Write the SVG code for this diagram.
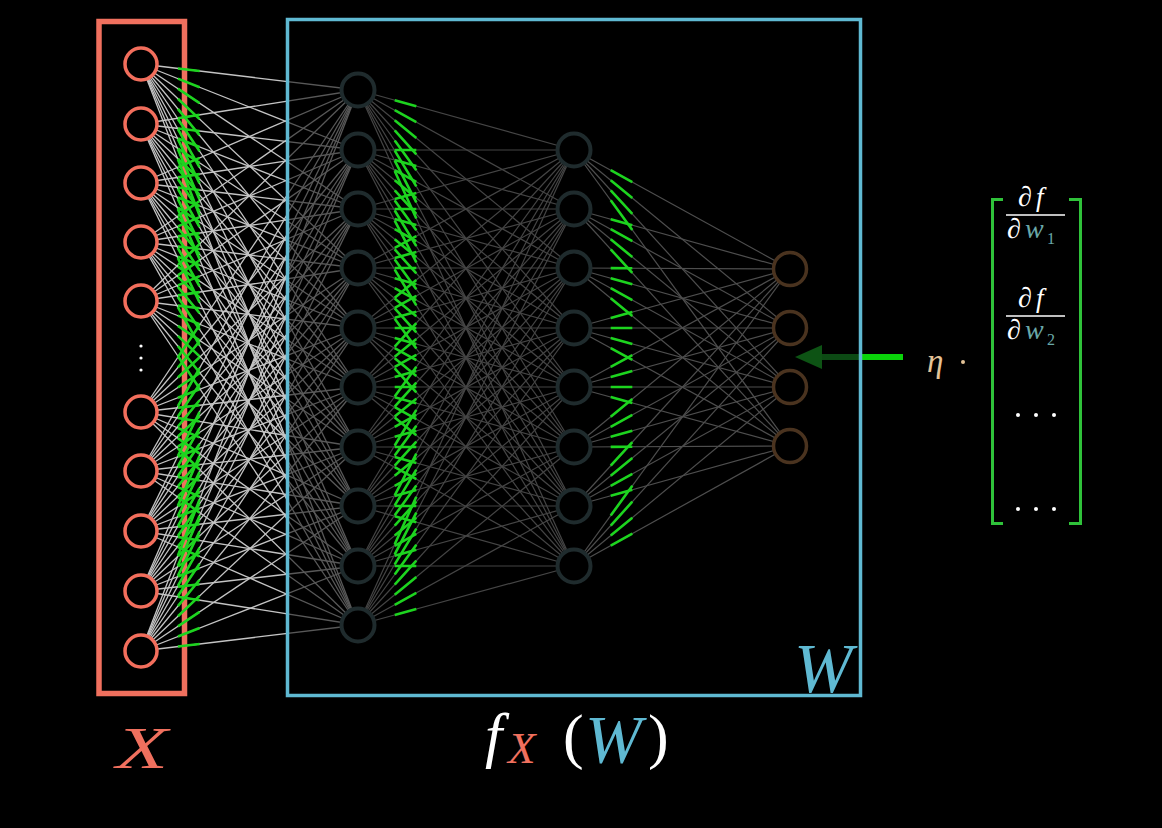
<svg xmlns="http://www.w3.org/2000/svg" xmlns:xlink="http://www.w3.org/1999/xlink" width="1162" height="828" viewBox="0 0 1162 828">
<style>
.t{font-family:"Liberation Serif","DejaVu Serif",serif}
.it{font-style:italic}
.l1{stroke:url(#fade);stroke-width:1.3;fill:none}
.l2{stroke:#454545;stroke-width:1.2;fill:none}
.l3{stroke:#4e4e4e;stroke-width:1.2;fill:none}
.grn{stroke:#1DD41F;stroke-width:2.6;stroke-dasharray:0 17 10 300;fill:none}
.in{fill:#000;stroke:#F26E5C;stroke-width:3.5}
.hid{fill:#000;stroke:#1F2B2D;stroke-width:4}
.out{fill:#000;stroke:#4A331F;stroke-width:3.5}
.brk{fill:none;stroke:#2FC23A;stroke-width:3}
.teal{fill:#6AA8A8}
</style>
<defs>
<linearGradient id="fade" gradientUnits="userSpaceOnUse" x1="0" y1="0" x2="1162" y2="0">
<stop offset="0" stop-color="#C4C4C4"/><stop offset="0.247" stop-color="#C4C4C4"/><stop offset="0.247" stop-color="#585858"/><stop offset="1" stop-color="#585858"/>
</linearGradient>
<g id="E1">
<line x1="141" y1="64" x2="358" y2="90" pathLength="100"/><line x1="141" y1="64" x2="358" y2="150" pathLength="100"/><line x1="141" y1="64" x2="358" y2="209" pathLength="100"/><line x1="141" y1="64" x2="358" y2="268" pathLength="100"/><line x1="141" y1="64" x2="358" y2="328" pathLength="100"/><line x1="141" y1="64" x2="358" y2="387" pathLength="100"/><line x1="141" y1="64" x2="358" y2="447" pathLength="100"/><line x1="141" y1="64" x2="358" y2="506" pathLength="100"/><line x1="141" y1="64" x2="358" y2="566" pathLength="100"/><line x1="141" y1="64" x2="358" y2="625" pathLength="100"/>
<line x1="141" y1="124" x2="358" y2="90" pathLength="100"/><line x1="141" y1="124" x2="358" y2="150" pathLength="100"/><line x1="141" y1="124" x2="358" y2="209" pathLength="100"/><line x1="141" y1="124" x2="358" y2="268" pathLength="100"/><line x1="141" y1="124" x2="358" y2="328" pathLength="100"/><line x1="141" y1="124" x2="358" y2="387" pathLength="100"/><line x1="141" y1="124" x2="358" y2="447" pathLength="100"/><line x1="141" y1="124" x2="358" y2="506" pathLength="100"/><line x1="141" y1="124" x2="358" y2="566" pathLength="100"/><line x1="141" y1="124" x2="358" y2="625" pathLength="100"/>
<line x1="141" y1="183" x2="358" y2="90" pathLength="100"/><line x1="141" y1="183" x2="358" y2="150" pathLength="100"/><line x1="141" y1="183" x2="358" y2="209" pathLength="100"/><line x1="141" y1="183" x2="358" y2="268" pathLength="100"/><line x1="141" y1="183" x2="358" y2="328" pathLength="100"/><line x1="141" y1="183" x2="358" y2="387" pathLength="100"/><line x1="141" y1="183" x2="358" y2="447" pathLength="100"/><line x1="141" y1="183" x2="358" y2="506" pathLength="100"/><line x1="141" y1="183" x2="358" y2="566" pathLength="100"/><line x1="141" y1="183" x2="358" y2="625" pathLength="100"/>
<line x1="141" y1="242" x2="358" y2="90" pathLength="100"/><line x1="141" y1="242" x2="358" y2="150" pathLength="100"/><line x1="141" y1="242" x2="358" y2="209" pathLength="100"/><line x1="141" y1="242" x2="358" y2="268" pathLength="100"/><line x1="141" y1="242" x2="358" y2="328" pathLength="100"/><line x1="141" y1="242" x2="358" y2="387" pathLength="100"/><line x1="141" y1="242" x2="358" y2="447" pathLength="100"/><line x1="141" y1="242" x2="358" y2="506" pathLength="100"/><line x1="141" y1="242" x2="358" y2="566" pathLength="100"/><line x1="141" y1="242" x2="358" y2="625" pathLength="100"/>
<line x1="141" y1="301" x2="358" y2="90" pathLength="100"/><line x1="141" y1="301" x2="358" y2="150" pathLength="100"/><line x1="141" y1="301" x2="358" y2="209" pathLength="100"/><line x1="141" y1="301" x2="358" y2="268" pathLength="100"/><line x1="141" y1="301" x2="358" y2="328" pathLength="100"/><line x1="141" y1="301" x2="358" y2="387" pathLength="100"/><line x1="141" y1="301" x2="358" y2="447" pathLength="100"/><line x1="141" y1="301" x2="358" y2="506" pathLength="100"/><line x1="141" y1="301" x2="358" y2="566" pathLength="100"/><line x1="141" y1="301" x2="358" y2="625" pathLength="100"/>
<line x1="141" y1="412" x2="358" y2="90" pathLength="100"/><line x1="141" y1="412" x2="358" y2="150" pathLength="100"/><line x1="141" y1="412" x2="358" y2="209" pathLength="100"/><line x1="141" y1="412" x2="358" y2="268" pathLength="100"/><line x1="141" y1="412" x2="358" y2="328" pathLength="100"/><line x1="141" y1="412" x2="358" y2="387" pathLength="100"/><line x1="141" y1="412" x2="358" y2="447" pathLength="100"/><line x1="141" y1="412" x2="358" y2="506" pathLength="100"/><line x1="141" y1="412" x2="358" y2="566" pathLength="100"/><line x1="141" y1="412" x2="358" y2="625" pathLength="100"/>
<line x1="141" y1="471" x2="358" y2="90" pathLength="100"/><line x1="141" y1="471" x2="358" y2="150" pathLength="100"/><line x1="141" y1="471" x2="358" y2="209" pathLength="100"/><line x1="141" y1="471" x2="358" y2="268" pathLength="100"/><line x1="141" y1="471" x2="358" y2="328" pathLength="100"/><line x1="141" y1="471" x2="358" y2="387" pathLength="100"/><line x1="141" y1="471" x2="358" y2="447" pathLength="100"/><line x1="141" y1="471" x2="358" y2="506" pathLength="100"/><line x1="141" y1="471" x2="358" y2="566" pathLength="100"/><line x1="141" y1="471" x2="358" y2="625" pathLength="100"/>
<line x1="141" y1="531" x2="358" y2="90" pathLength="100"/><line x1="141" y1="531" x2="358" y2="150" pathLength="100"/><line x1="141" y1="531" x2="358" y2="209" pathLength="100"/><line x1="141" y1="531" x2="358" y2="268" pathLength="100"/><line x1="141" y1="531" x2="358" y2="328" pathLength="100"/><line x1="141" y1="531" x2="358" y2="387" pathLength="100"/><line x1="141" y1="531" x2="358" y2="447" pathLength="100"/><line x1="141" y1="531" x2="358" y2="506" pathLength="100"/><line x1="141" y1="531" x2="358" y2="566" pathLength="100"/><line x1="141" y1="531" x2="358" y2="625" pathLength="100"/>
<line x1="141" y1="591" x2="358" y2="90" pathLength="100"/><line x1="141" y1="591" x2="358" y2="150" pathLength="100"/><line x1="141" y1="591" x2="358" y2="209" pathLength="100"/><line x1="141" y1="591" x2="358" y2="268" pathLength="100"/><line x1="141" y1="591" x2="358" y2="328" pathLength="100"/><line x1="141" y1="591" x2="358" y2="387" pathLength="100"/><line x1="141" y1="591" x2="358" y2="447" pathLength="100"/><line x1="141" y1="591" x2="358" y2="506" pathLength="100"/><line x1="141" y1="591" x2="358" y2="566" pathLength="100"/><line x1="141" y1="591" x2="358" y2="625" pathLength="100"/>
<line x1="141" y1="651" x2="358" y2="90" pathLength="100"/><line x1="141" y1="651" x2="358" y2="150" pathLength="100"/><line x1="141" y1="651" x2="358" y2="209" pathLength="100"/><line x1="141" y1="651" x2="358" y2="268" pathLength="100"/><line x1="141" y1="651" x2="358" y2="328" pathLength="100"/><line x1="141" y1="651" x2="358" y2="387" pathLength="100"/><line x1="141" y1="651" x2="358" y2="447" pathLength="100"/><line x1="141" y1="651" x2="358" y2="506" pathLength="100"/><line x1="141" y1="651" x2="358" y2="566" pathLength="100"/><line x1="141" y1="651" x2="358" y2="625" pathLength="100"/>
</g>
<g id="E2">
<line x1="358" y1="90" x2="574" y2="150" pathLength="100"/><line x1="358" y1="90" x2="574" y2="209" pathLength="100"/><line x1="358" y1="90" x2="574" y2="268" pathLength="100"/><line x1="358" y1="90" x2="574" y2="328" pathLength="100"/><line x1="358" y1="90" x2="574" y2="387" pathLength="100"/><line x1="358" y1="90" x2="574" y2="447" pathLength="100"/><line x1="358" y1="90" x2="574" y2="506" pathLength="100"/><line x1="358" y1="90" x2="574" y2="566" pathLength="100"/>
<line x1="358" y1="150" x2="574" y2="150" pathLength="100"/><line x1="358" y1="150" x2="574" y2="209" pathLength="100"/><line x1="358" y1="150" x2="574" y2="268" pathLength="100"/><line x1="358" y1="150" x2="574" y2="328" pathLength="100"/><line x1="358" y1="150" x2="574" y2="387" pathLength="100"/><line x1="358" y1="150" x2="574" y2="447" pathLength="100"/><line x1="358" y1="150" x2="574" y2="506" pathLength="100"/><line x1="358" y1="150" x2="574" y2="566" pathLength="100"/>
<line x1="358" y1="209" x2="574" y2="150" pathLength="100"/><line x1="358" y1="209" x2="574" y2="209" pathLength="100"/><line x1="358" y1="209" x2="574" y2="268" pathLength="100"/><line x1="358" y1="209" x2="574" y2="328" pathLength="100"/><line x1="358" y1="209" x2="574" y2="387" pathLength="100"/><line x1="358" y1="209" x2="574" y2="447" pathLength="100"/><line x1="358" y1="209" x2="574" y2="506" pathLength="100"/><line x1="358" y1="209" x2="574" y2="566" pathLength="100"/>
<line x1="358" y1="268" x2="574" y2="150" pathLength="100"/><line x1="358" y1="268" x2="574" y2="209" pathLength="100"/><line x1="358" y1="268" x2="574" y2="268" pathLength="100"/><line x1="358" y1="268" x2="574" y2="328" pathLength="100"/><line x1="358" y1="268" x2="574" y2="387" pathLength="100"/><line x1="358" y1="268" x2="574" y2="447" pathLength="100"/><line x1="358" y1="268" x2="574" y2="506" pathLength="100"/><line x1="358" y1="268" x2="574" y2="566" pathLength="100"/>
<line x1="358" y1="328" x2="574" y2="150" pathLength="100"/><line x1="358" y1="328" x2="574" y2="209" pathLength="100"/><line x1="358" y1="328" x2="574" y2="268" pathLength="100"/><line x1="358" y1="328" x2="574" y2="328" pathLength="100"/><line x1="358" y1="328" x2="574" y2="387" pathLength="100"/><line x1="358" y1="328" x2="574" y2="447" pathLength="100"/><line x1="358" y1="328" x2="574" y2="506" pathLength="100"/><line x1="358" y1="328" x2="574" y2="566" pathLength="100"/>
<line x1="358" y1="387" x2="574" y2="150" pathLength="100"/><line x1="358" y1="387" x2="574" y2="209" pathLength="100"/><line x1="358" y1="387" x2="574" y2="268" pathLength="100"/><line x1="358" y1="387" x2="574" y2="328" pathLength="100"/><line x1="358" y1="387" x2="574" y2="387" pathLength="100"/><line x1="358" y1="387" x2="574" y2="447" pathLength="100"/><line x1="358" y1="387" x2="574" y2="506" pathLength="100"/><line x1="358" y1="387" x2="574" y2="566" pathLength="100"/>
<line x1="358" y1="447" x2="574" y2="150" pathLength="100"/><line x1="358" y1="447" x2="574" y2="209" pathLength="100"/><line x1="358" y1="447" x2="574" y2="268" pathLength="100"/><line x1="358" y1="447" x2="574" y2="328" pathLength="100"/><line x1="358" y1="447" x2="574" y2="387" pathLength="100"/><line x1="358" y1="447" x2="574" y2="447" pathLength="100"/><line x1="358" y1="447" x2="574" y2="506" pathLength="100"/><line x1="358" y1="447" x2="574" y2="566" pathLength="100"/>
<line x1="358" y1="506" x2="574" y2="150" pathLength="100"/><line x1="358" y1="506" x2="574" y2="209" pathLength="100"/><line x1="358" y1="506" x2="574" y2="268" pathLength="100"/><line x1="358" y1="506" x2="574" y2="328" pathLength="100"/><line x1="358" y1="506" x2="574" y2="387" pathLength="100"/><line x1="358" y1="506" x2="574" y2="447" pathLength="100"/><line x1="358" y1="506" x2="574" y2="506" pathLength="100"/><line x1="358" y1="506" x2="574" y2="566" pathLength="100"/>
<line x1="358" y1="566" x2="574" y2="150" pathLength="100"/><line x1="358" y1="566" x2="574" y2="209" pathLength="100"/><line x1="358" y1="566" x2="574" y2="268" pathLength="100"/><line x1="358" y1="566" x2="574" y2="328" pathLength="100"/><line x1="358" y1="566" x2="574" y2="387" pathLength="100"/><line x1="358" y1="566" x2="574" y2="447" pathLength="100"/><line x1="358" y1="566" x2="574" y2="506" pathLength="100"/><line x1="358" y1="566" x2="574" y2="566" pathLength="100"/>
<line x1="358" y1="625" x2="574" y2="150" pathLength="100"/><line x1="358" y1="625" x2="574" y2="209" pathLength="100"/><line x1="358" y1="625" x2="574" y2="268" pathLength="100"/><line x1="358" y1="625" x2="574" y2="328" pathLength="100"/><line x1="358" y1="625" x2="574" y2="387" pathLength="100"/><line x1="358" y1="625" x2="574" y2="447" pathLength="100"/><line x1="358" y1="625" x2="574" y2="506" pathLength="100"/><line x1="358" y1="625" x2="574" y2="566" pathLength="100"/>
</g>
<g id="E3">
<line x1="574" y1="150" x2="790" y2="269" pathLength="100"/><line x1="574" y1="150" x2="790" y2="328" pathLength="100"/><line x1="574" y1="150" x2="790" y2="387" pathLength="100"/><line x1="574" y1="150" x2="790" y2="446" pathLength="100"/>
<line x1="574" y1="209" x2="790" y2="269" pathLength="100"/><line x1="574" y1="209" x2="790" y2="328" pathLength="100"/><line x1="574" y1="209" x2="790" y2="387" pathLength="100"/><line x1="574" y1="209" x2="790" y2="446" pathLength="100"/>
<line x1="574" y1="268" x2="790" y2="269" pathLength="100"/><line x1="574" y1="268" x2="790" y2="328" pathLength="100"/><line x1="574" y1="268" x2="790" y2="387" pathLength="100"/><line x1="574" y1="268" x2="790" y2="446" pathLength="100"/>
<line x1="574" y1="328" x2="790" y2="269" pathLength="100"/><line x1="574" y1="328" x2="790" y2="328" pathLength="100"/><line x1="574" y1="328" x2="790" y2="387" pathLength="100"/><line x1="574" y1="328" x2="790" y2="446" pathLength="100"/>
<line x1="574" y1="387" x2="790" y2="269" pathLength="100"/><line x1="574" y1="387" x2="790" y2="328" pathLength="100"/><line x1="574" y1="387" x2="790" y2="387" pathLength="100"/><line x1="574" y1="387" x2="790" y2="446" pathLength="100"/>
<line x1="574" y1="447" x2="790" y2="269" pathLength="100"/><line x1="574" y1="447" x2="790" y2="328" pathLength="100"/><line x1="574" y1="447" x2="790" y2="387" pathLength="100"/><line x1="574" y1="447" x2="790" y2="446" pathLength="100"/>
<line x1="574" y1="506" x2="790" y2="269" pathLength="100"/><line x1="574" y1="506" x2="790" y2="328" pathLength="100"/><line x1="574" y1="506" x2="790" y2="387" pathLength="100"/><line x1="574" y1="506" x2="790" y2="446" pathLength="100"/>
<line x1="574" y1="566" x2="790" y2="269" pathLength="100"/><line x1="574" y1="566" x2="790" y2="328" pathLength="100"/><line x1="574" y1="566" x2="790" y2="387" pathLength="100"/><line x1="574" y1="566" x2="790" y2="446" pathLength="100"/>
</g>
</defs>
<rect width="1162" height="828" fill="#000"/>
<g id="box-X"><rect x="99" y="21.5" width="85.5" height="672" fill="none" stroke="#F0705E" stroke-width="5.5"/></g>
<g id="connectors">
<use xlink:href="#E1" class="l1"/>
<use xlink:href="#E2" class="l2"/>
<use xlink:href="#E3" class="l3"/>
<use xlink:href="#E1" class="grn"/>
<use xlink:href="#E2" class="grn"/>
<use xlink:href="#E3" class="grn"/>
<g id="arrow">
<rect x="820" y="354" width="43" height="6" fill="#0C4A14"/>
<rect x="862" y="354" width="41" height="6" fill="#0AD40A"/>
<polygon points="795,357 822,345 822,369" fill="#0D5314"/>
</g>
</g>
<g id="box-W"><rect x="287.5" y="19.5" width="573" height="676" fill="none" stroke="#5FB9D2" stroke-width="3.5"/>
<text class="t it" x="794" y="692" font-size="70" fill="#5FB9D2">W</text></g>
<g id="inputs">
<g id="x1"><circle class="in" cx="141" cy="64" r="16"/></g>
<g id="x2"><circle class="in" cx="141" cy="124" r="16"/></g>
<g id="x3"><circle class="in" cx="141" cy="183" r="16"/></g>
<g id="x4"><circle class="in" cx="141" cy="242" r="16"/></g>
<g id="x5"><circle class="in" cx="141" cy="301" r="16"/></g>
<g id="xdots" fill="#fff"><circle cx="141" cy="346" r="1.6"/><circle cx="141" cy="358" r="1.6"/><circle cx="141" cy="370" r="1.6"/></g>
<g id="x6"><circle class="in" cx="141" cy="412" r="16"/></g>
<g id="x7"><circle class="in" cx="141" cy="471" r="16"/></g>
<g id="x8"><circle class="in" cx="141" cy="531" r="16"/></g>
<g id="x9"><circle class="in" cx="141" cy="591" r="16"/></g>
<g id="x10"><circle class="in" cx="141" cy="651" r="16"/></g>
</g>
<g id="hidden1">
<g id="h1-1"><circle class="hid" cx="358" cy="90" r="16.5"/></g>
<g id="h1-2"><circle class="hid" cx="358" cy="150" r="16.5"/></g>
<g id="h1-3"><circle class="hid" cx="358" cy="209" r="16.5"/></g>
<g id="h1-4"><circle class="hid" cx="358" cy="268" r="16.5"/></g>
<g id="h1-5"><circle class="hid" cx="358" cy="328" r="16.5"/></g>
<g id="h1-6"><circle class="hid" cx="358" cy="387" r="16.5"/></g>
<g id="h1-7"><circle class="hid" cx="358" cy="447" r="16.5"/></g>
<g id="h1-8"><circle class="hid" cx="358" cy="506" r="16.5"/></g>
<g id="h1-9"><circle class="hid" cx="358" cy="566" r="16.5"/></g>
<g id="h1-10"><circle class="hid" cx="358" cy="625" r="16.5"/></g>
</g>
<g id="hidden2">
<g id="h2-1"><circle class="hid" cx="574" cy="150" r="16.5"/></g>
<g id="h2-2"><circle class="hid" cx="574" cy="209" r="16.5"/></g>
<g id="h2-3"><circle class="hid" cx="574" cy="268" r="16.5"/></g>
<g id="h2-4"><circle class="hid" cx="574" cy="328" r="16.5"/></g>
<g id="h2-5"><circle class="hid" cx="574" cy="387" r="16.5"/></g>
<g id="h2-6"><circle class="hid" cx="574" cy="447" r="16.5"/></g>
<g id="h2-7"><circle class="hid" cx="574" cy="506" r="16.5"/></g>
<g id="h2-8"><circle class="hid" cx="574" cy="566" r="16.5"/></g>
</g>
<g id="outputs">
<g id="o1"><circle class="out" cx="790" cy="269" r="16.5"/></g>
<g id="o2"><circle class="out" cx="790" cy="328" r="16.5"/></g>
<g id="o3"><circle class="out" cx="790" cy="387" r="16.5"/></g>
<g id="o4"><circle class="out" cx="790" cy="446" r="16.5"/></g>
</g>
<g id="eta"><text class="t it" x="927" y="372" font-size="33" fill="#E3C297">η</text><circle cx="963" cy="362" r="2" fill="#E3C297"/></g>
<g id="gradient-vector">
<path class="brk" d="M1003,199.5 H992.5 V523.5 H1003 M1069,199.5 H1080.5 V523.5 H1069"/>
<text class="t" x="1018" y="206" font-size="28" fill="#fff">∂</text>
<text class="t it" x="1036" y="206" font-size="27" fill="#fff">f</text>
<line x1="1006" y1="215" x2="1065" y2="215" stroke="#fff" stroke-width="1.6"/>
<text class="t" x="1007" y="238" font-size="28" fill="#fff">∂</text>
<text class="t it teal" x="1025" y="238" font-size="28">w</text>
<text class="t teal" x="1047" y="244" font-size="16">1</text>
<text class="t" x="1018" y="307" font-size="28" fill="#fff">∂</text>
<text class="t it" x="1036" y="307" font-size="27" fill="#fff">f</text>
<line x1="1006" y1="316" x2="1065" y2="316" stroke="#fff" stroke-width="1.6"/>
<text class="t" x="1007" y="339" font-size="28" fill="#fff">∂</text>
<text class="t it teal" x="1025" y="339" font-size="28">w</text>
<text class="t teal" x="1047" y="345" font-size="16">2</text>
<g fill="#fff"><circle cx="1018" cy="415" r="2"/><circle cx="1036" cy="415" r="2"/><circle cx="1054" cy="415" r="2"/><circle cx="1018" cy="509" r="2"/><circle cx="1036" cy="509" r="2"/><circle cx="1054" cy="509" r="2"/></g>
</g>
<g id="label-X"><text class="t it" x="116" y="768" font-size="60" fill="#F0705E" textLength="52" lengthAdjust="spacingAndGlyphs">X</text></g>
<g id="label-f">
<text class="t it" x="485" y="756" font-size="62" fill="#fff">f</text>
<text class="t it" x="508" y="763" font-size="45" fill="#F0705E">X</text>
<text class="t" x="563" y="757" font-size="62" fill="#fff">(</text>
<text class="t it" x="585" y="762" font-size="68" fill="#5FB9D2">W</text>
<text class="t" x="648" y="757" font-size="62" fill="#fff">)</text>
</g>
</svg>
